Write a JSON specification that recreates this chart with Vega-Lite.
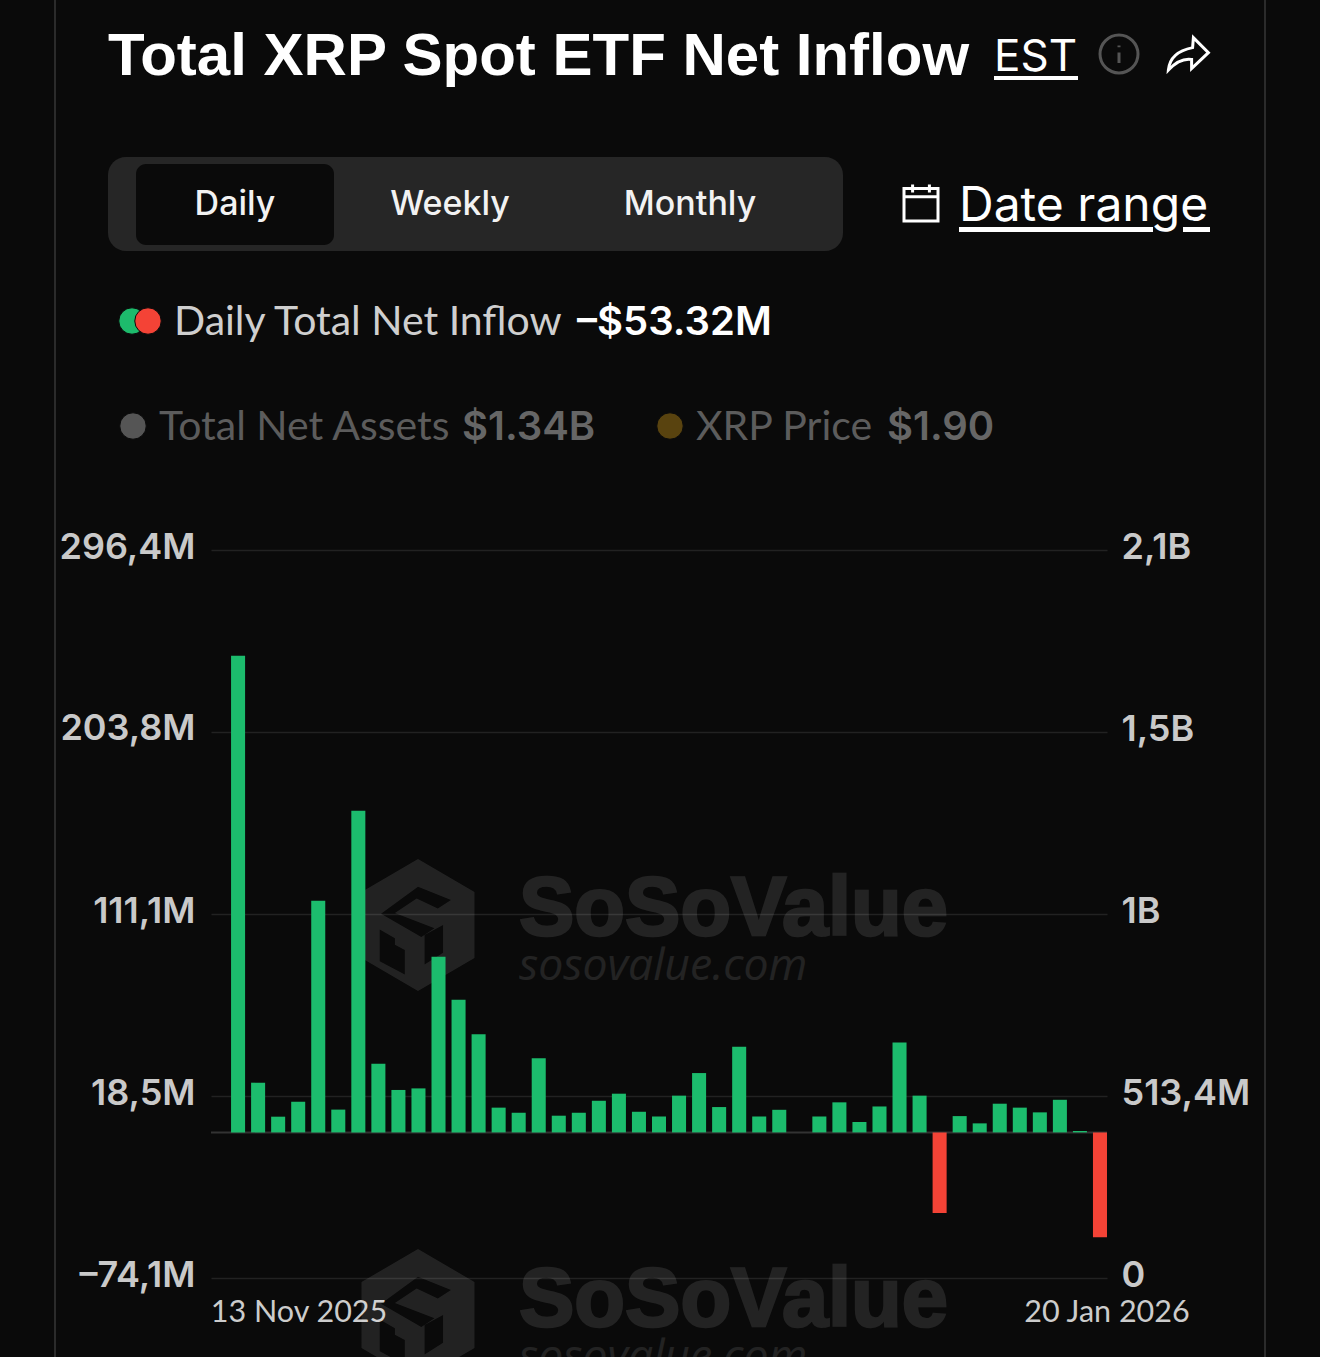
{
"$schema":"https://vega.github.io/schema/vega-lite/v6.json",
"width":896,"height":728,
"autosize":{"type":"none"},
"padding":{"left":211,"top":550,"right":213,"bottom":79},
"background":"#0a0a0a",
"config":{"view":{"stroke":null}},
"title":{"text":"Total XRP Spot ETF Net Inflow","anchor":"start","frame":"group","baseline":"alphabetic","dx":-103,"offset":-136,"font":"Liberation Sans","fontSize":60,"fontWeight":"bold","color":"#ffffff"},
"datasets":{"flows":[
{"date":"2025-11-13","netInflowM":0,"direction":"inflow"},
{"date":"2025-11-14","netInflowM":242.6,"direction":"inflow"},
{"date":"2025-11-17","netInflowM":25.3,"direction":"inflow"},
{"date":"2025-11-18","netInflowM":8.0,"direction":"inflow"},
{"date":"2025-11-19","netInflowM":15.6,"direction":"inflow"},
{"date":"2025-11-20","netInflowM":117.9,"direction":"inflow"},
{"date":"2025-11-21","netInflowM":11.6,"direction":"inflow"},
{"date":"2025-11-24","netInflowM":163.7,"direction":"inflow"},
{"date":"2025-11-25","netInflowM":35.0,"direction":"inflow"},
{"date":"2025-11-26","netInflowM":21.6,"direction":"inflow"},
{"date":"2025-11-28","netInflowM":22.4,"direction":"inflow"},
{"date":"2025-12-01","netInflowM":89.4,"direction":"inflow"},
{"date":"2025-12-02","netInflowM":67.5,"direction":"inflow"},
{"date":"2025-12-03","netInflowM":50.0,"direction":"inflow"},
{"date":"2025-12-04","netInflowM":12.6,"direction":"inflow"},
{"date":"2025-12-05","netInflowM":10.0,"direction":"inflow"},
{"date":"2025-12-08","netInflowM":37.7,"direction":"inflow"},
{"date":"2025-12-09","netInflowM":8.5,"direction":"inflow"},
{"date":"2025-12-10","netInflowM":10.0,"direction":"inflow"},
{"date":"2025-12-11","netInflowM":16.1,"direction":"inflow"},
{"date":"2025-12-12","netInflowM":19.7,"direction":"inflow"},
{"date":"2025-12-15","netInflowM":10.5,"direction":"inflow"},
{"date":"2025-12-16","netInflowM":8.1,"direction":"inflow"},
{"date":"2025-12-17","netInflowM":18.7,"direction":"inflow"},
{"date":"2025-12-18","netInflowM":30.2,"direction":"inflow"},
{"date":"2025-12-19","netInflowM":12.9,"direction":"inflow"},
{"date":"2025-12-22","netInflowM":43.6,"direction":"inflow"},
{"date":"2025-12-23","netInflowM":8.1,"direction":"inflow"},
{"date":"2025-12-24","netInflowM":11.5,"direction":"inflow"},
{"date":"2025-12-26","netInflowM":0,"direction":"inflow"},
{"date":"2025-12-29","netInflowM":8.1,"direction":"inflow"},
{"date":"2025-12-30","netInflowM":15.3,"direction":"inflow"},
{"date":"2025-12-31","netInflowM":5.3,"direction":"inflow"},
{"date":"2026-01-02","netInflowM":13.2,"direction":"inflow"},
{"date":"2026-01-05","netInflowM":45.8,"direction":"inflow"},
{"date":"2026-01-06","netInflowM":18.7,"direction":"inflow"},
{"date":"2026-01-07","netInflowM":-41.0,"direction":"outflow"},
{"date":"2026-01-08","netInflowM":8.3,"direction":"inflow"},
{"date":"2026-01-09","netInflowM":4.6,"direction":"inflow"},
{"date":"2026-01-12","netInflowM":14.6,"direction":"inflow"},
{"date":"2026-01-13","netInflowM":12.6,"direction":"inflow"},
{"date":"2026-01-14","netInflowM":10.2,"direction":"inflow"},
{"date":"2026-01-15","netInflowM":16.6,"direction":"inflow"},
{"date":"2026-01-16","netInflowM":0.7,"direction":"inflow"},
{"date":"2026-01-20","netInflowM":-53.32,"direction":"outflow"}
]},
"data":{"name":"flows"},
"layer":[
{"data":{"values":[{"seq":0,"top":0,"bottom":1},{"seq":1,"top":0,"bottom":1}]},
 "mark":{"type":"rule","color":"#2b2b2b","strokeWidth":2},
 "encoding":{"x":{"field":"seq","type":"quantitative","axis":null,"scale":{"domain":[0,1],"range":[-156,1054]}},
 "y":{"field":"top","type":"quantitative","axis":null,"scale":{"domain":[0,1],"range":[-550,807]}},"y2":{"field":"bottom"}}},
{"data":{"values":[{"seq":0,"end":1,"row":0,"rowEnd":1}]},
 "mark":{"type":"rect","color":"#262626","cornerRadius":18},
 "encoding":{"x":{"field":"seq","type":"quantitative","axis":null,"scale":{"domain":[0,1],"range":[-103,632]}},"x2":{"field":"end"},
 "y":{"field":"row","type":"quantitative","axis":null,"scale":{"domain":[0,1],"range":[-393,-299]}},"y2":{"field":"rowEnd"}}},
{"data":{"values":[{"seq":0,"end":1,"row":0,"rowEnd":1}]},
 "mark":{"type":"rect","color":"#0a0a0a","cornerRadius":10},
 "encoding":{"x":{"field":"seq","type":"quantitative","axis":null,"scale":{"domain":[0,1],"range":[-75,123]}},"x2":{"field":"end"},
 "y":{"field":"row","type":"quantitative","axis":null,"scale":{"domain":[0,1],"range":[-386,-305]}},"y2":{"field":"rowEnd"}}},
{"data":{"values":[{"tab":"Daily","seq":0},{"tab":"Weekly","seq":1},{"tab":"Monthly","seq":2}]},
 "mark":{"type":"text","font":"Inter","fontSize":34,"fontWeight":500,"color":"#f2f2f2","align":"center","baseline":"middle"},
 "encoding":{"text":{"field":"tab"},"x":{"field":"seq","type":"quantitative","axis":null,"scale":{"domain":[0,1,2],"range":[24,239,479]}},
 "y":{"datum":0,"type":"quantitative","axis":null,"scale":{"domain":[0,1],"range":[-345,-300]}}}},
{"data":{"values":[{"label":"EST"}]},
 "mark":{"type":"text","font":"Inter","fontSize":44,"color":"#ffffff","align":"left","baseline":"alphabetic"},
 "encoding":{"text":{"field":"label"},"x":{"datum":0,"type":"quantitative","axis":null,"scale":{"domain":[0,1],"range":[783,900]}},
 "y":{"datum":0,"type":"quantitative","axis":null,"scale":{"domain":[0,1],"range":[-479,-400]}}}},
{"data":{"values":[{"label":"Date range"}]},
 "mark":{"type":"text","font":"Inter","fontSize":48,"color":"#ffffff","align":"left","baseline":"alphabetic"},
 "encoding":{"text":{"field":"label"},"x":{"datum":0,"type":"quantitative","axis":null,"scale":{"domain":[0,1],"range":[748,900]}},
 "y":{"datum":0,"type":"quantitative","axis":null,"scale":{"domain":[0,1],"range":[-329,-300]}}}},
{"data":{"values":[{"seq":0,"end":1,"row":0,"rowEnd":1},{"seq":2,"end":3,"row":2,"rowEnd":3},{"seq":4,"end":5,"row":2,"rowEnd":3}]},
 "mark":{"type":"rect","color":"#ffffff"},
 "encoding":{"x":{"field":"seq","type":"quantitative","axis":null,"scale":{"domain":[0,1,2,3,4,5],"range":[783,867,748,942,972,999]}},"x2":{"field":"end"},
 "y":{"field":"row","type":"quantitative","axis":null,"scale":{"domain":[0,1,2,3],"range":[-474,-470,-323,-318]}},"y2":{"field":"rowEnd"}}},
{"data":{"values":[{"icon":"info","seq":0,"row":0},{"icon":"share","seq":1,"row":0},{"icon":"calendar","seq":2,"row":1}]},
 "mark":{"type":"point","filled":false,"size":1600,"strokeWidth":3,"opacity":1},
 "encoding":{"x":{"field":"seq","type":"quantitative","axis":null,"scale":{"domain":[0,1,2],"range":[908,977,710]}},
 "y":{"field":"row","type":"quantitative","axis":null,"scale":{"domain":[0,1],"range":[-496,-345.5]}},
 "shape":{"field":"icon","type":"nominal","legend":null,"scale":{"domain":["info","share","calendar"],"range":["M0.95,0 A0.95,0.95 0 1,1 -0.95,0 A0.95,0.95 0 1,1 0.95,0 Z M0,-0.08 L0,0.45 M0,-0.42 L0,-0.34","M-0.98,0.8 Q-0.9,-0.1 0.23,-0.32 L0.27,-0.82 L1.02,-0.07 L0.18,0.73 L0.18,0.27 Q-0.4,0.18 -0.98,0.8 Z","M-0.85,-0.8 L0.85,-0.8 L0.85,0.82 L-0.85,0.82 Z M-0.85,-0.39 L0.85,-0.39 M-0.42,-1 L-0.42,-0.6 M0.42,-1 L0.42,-0.6"]}},
 "stroke":{"field":"icon","type":"nominal","legend":null,"scale":{"domain":["info","share","calendar"],"range":["#555555","#ffffff","#ffffff"]}}}},
{"data":{"values":[{"series":"inflow","seq":0,"row":0},{"series":"outflow","seq":1,"row":0},{"series":"assets","seq":2,"row":1},{"series":"price","seq":3,"row":1}]},
 "mark":{"type":"point","shape":"circle","filled":true,"size":700,"opacity":1,"stroke":"#0a0a0a","strokeWidth":1},
 "encoding":{"x":{"field":"seq","type":"quantitative","axis":null,"scale":{"domain":[0,1,2,3],"range":[-79,-63,-78,459]}},
 "y":{"field":"row","type":"quantitative","axis":null,"scale":{"domain":[0,1],"range":[-229,-124]}},
 "fill":{"field":"series","type":"nominal","legend":null,"scale":{"domain":["inflow","outflow","assets","price"],"range":["#1dbb6c","#f44336","#555555","#59430f"]}}}},
{"data":{"values":[{"text":"Daily Total Net Inflow","seq":0,"row":0,"state":"on"},{"text":"Total Net Assets","seq":1,"row":1,"state":"off"},{"text":"XRP Price","seq":2,"row":1,"state":"off"}]},
 "mark":{"type":"text","font":"Lato","fontSize":41,"align":"left","baseline":"middle"},
 "encoding":{"text":{"field":"text"},"x":{"field":"seq","type":"quantitative","axis":null,"scale":{"domain":[0,1,2],"range":[-37,-52,485]}},
 "y":{"field":"row","type":"quantitative","axis":null,"scale":{"domain":[0,1],"range":[-227,-122]}},
 "color":{"field":"state","type":"nominal","legend":null,"scale":{"domain":["on","off"],"range":["#cfcfcf","#5c5c5c"]}}}},
{"data":{"values":[{"text":"–$53.32M","seq":0,"row":0,"state":"on"},{"text":"$1.34B","seq":1,"row":1,"state":"off"},{"text":"$1.90","seq":2,"row":1,"state":"off"}]},
 "mark":{"type":"text","font":"Inter","fontSize":40,"fontWeight":600,"align":"left","baseline":"middle"},
 "encoding":{"text":{"field":"text"},"x":{"field":"seq","type":"quantitative","axis":null,"scale":{"domain":[0,1,2],"range":[366,251,676]}},
 "y":{"field":"row","type":"quantitative","axis":null,"scale":{"domain":[0,1],"range":[-227,-122]}},
 "color":{"field":"state","type":"nominal","legend":null,"scale":{"domain":["on","off"],"range":["#ffffff","#666666"]}}}},
{"data":{"values":[{"copy":0},{"copy":1}]},
 "mark":{"type":"point","filled":true,"color":"#ffffff","opacity":0.1,"size":17424,"strokeWidth":0,"shape":"M0,-1 L0.856,-0.5 L0.856,0.5 L0,1 L-0.856,0.5 L-0.856,-0.5 Z M0,-0.58 L-0.56,-0.17 L0.05,0.18 L0.25,0.05 L-0.35,-0.18 L-0.02,-0.4 L0.3,-0.25 L0.5,-0.38 Z M-0.58,0.07 L-0.58,0.55 L-0.2,0.75 L-0.2,0.38 L-0.35,0.3 L-0.35,0.2 Z M0.38,0 L0.1,0.15 L0.1,0.6 L0.38,0.42 Z"},
 "encoding":{"x":{"datum":0,"type":"quantitative","axis":null,"scale":{"domain":[0,1],"range":[207,300]}},
 "y":{"field":"copy","type":"quantitative","axis":null,"scale":{"domain":[0,1],"range":[375,765]}}}},
{"data":{"values":[{"text":"SoSoValue","copy":0},{"text":"SoSoValue","copy":1}]},
 "mark":{"type":"text","font":"Liberation Sans","fontWeight":"bold","fontSize":83,"color":"#ffffff","stroke":"#ffffff","strokeWidth":2.5,"opacity":0.1,"align":"left","baseline":"alphabetic"},
 "encoding":{"text":{"field":"text"},"x":{"datum":0,"type":"quantitative","axis":null,"scale":{"domain":[0,1],"range":[308,400]}},
 "y":{"field":"copy","type":"quantitative","axis":null,"scale":{"domain":[0,1],"range":[385,776]}}}},
{"data":{"values":[{"text":"sosovalue.com","copy":0},{"text":"sosovalue.com","copy":1}]},
 "mark":{"type":"text","font":"Open Sans","fontStyle":"italic","fontSize":44.5,"color":"#ffffff","opacity":0.1,"align":"left","baseline":"alphabetic"},
 "encoding":{"text":{"field":"text"},"x":{"datum":0,"type":"quantitative","axis":null,"scale":{"domain":[0,1],"range":[308,400]}},
 "y":{"field":"copy","type":"quantitative","axis":null,"scale":{"domain":[0,1],"range":[430,821]}}}},
{"mark":{"type":"rule","color":"#333333","strokeWidth":2},
 "data":{"values":[{"baseline":0}]},
 "encoding":{"y":{"field":"baseline","type":"quantitative","scale":{"domain":[-74.1,296.4]},
 "axis":{"title":null,"values":[-74.1,18.5,111.1,203.8,296.4],"domain":false,"ticks":false,"labels":false,"grid":true,"gridColor":"#222222","gridWidth":1.5}}}},
{"data":{"values":[{"netAssetsM":0},{"netAssetsM":2053.6}]},
 "mark":{"type":"point","opacity":0},
 "encoding":{"y":{"field":"netAssetsM","type":"quantitative","scale":{"domain":[0,2053.6]},
 "axis":{"orient":"right","title":null,"values":[0,513.4,1026.8,1540.2,2053.6],"domain":false,"ticks":false,"grid":false,"labelFont":"Inter","labelFontSize":36,"labelFontWeight":600,"labelColor":"#c9c9c9","labelPadding":14,"labelOffset":-3,"labelBound":false,"labelFlush":false,"labelOverlap":false,"labelLimit":400,
 "labelExpr":"datum.value==0?'0':datum.value<1000?'513,4M':datum.value<1100?'1B':datum.value<2000?'1,5B':'2,1B'"}}}},
{"mark":{"type":"bar"},
 "encoding":{
 "x":{"field":"date","type":"ordinal","sort":null,"scale":{"type":"band","range":[-3,899],"paddingInner":0.3,"paddingOuter":0.15},
 "axis":{"title":null,"values":["2025-11-13","2026-01-20"],"domain":false,"ticks":false,"grid":false,"labelAngle":0,"labelFont":"Lato","labelFontSize":30.5,"labelColor":"#cccccc","labelPadding":19,"labelOverlap":false,"labelBound":false,"labelFlush":false,"labelLimit":400,"labelOffset":{"expr":"datum.value=='2025-11-13'?81:7"},
 "labelExpr":"datum.value=='2025-11-13'?'13 Nov 2025':'20 Jan 2026'"}},
 "y":{"field":"netInflowM","type":"quantitative","scale":{"domain":[-74.1,296.4]},
 "axis":{"title":null,"values":[-74.1,18.5,111.1,203.8,296.4],"domain":false,"ticks":false,"grid":false,"labelFont":"Inter","labelFontSize":36,"labelFontWeight":600,"labelColor":"#c9c9c9","labelPadding":16,"labelOffset":-3,"labelBound":false,"labelFlush":false,"labelOverlap":false,"labelLimit":400,
 "labelExpr":"replace(replace(format(datum.value,'.1f'),'.',','),'−','–')+'M'"}},
 "color":{"field":"direction","type":"nominal","legend":null,"scale":{"domain":["inflow","outflow"],"range":["#1cbc6d","#f44336"]}}}}
],
"resolve":{"scale":{"x":"independent","y":"independent","color":"independent","shape":"independent","stroke":"independent","fill":"independent"},"axis":{"x":"independent","y":"independent"}}
}
